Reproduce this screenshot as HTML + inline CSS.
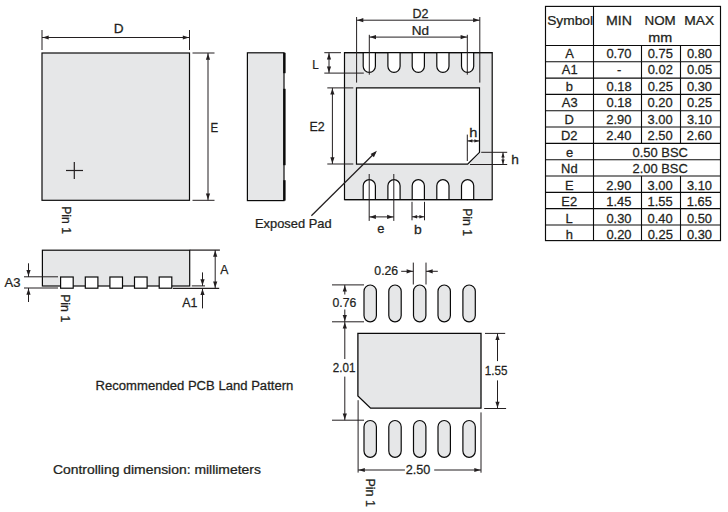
<!DOCTYPE html>
<html><head><meta charset="utf-8"><title>Package outline</title>
<style>
html,body{margin:0;padding:0;background:#fff;}
svg{display:block;}
text{font-family:"Liberation Sans",sans-serif;font-size:12.3px;fill:#231f20;stroke:#231f20;stroke-width:0.25px;}
</style></head><body>
<svg width="728" height="512" viewBox="0 0 728 512">
<rect x="0" y="0" width="728" height="512" fill="#ffffff"/>
<rect x="42" y="53" width="147.5" height="147.3" rx="0" fill="#e6e7e8" stroke="#0a0a0a" stroke-width="1.2"/>
<line x1="66" y1="170.5" x2="83" y2="170.5" stroke="#231f20" stroke-width="1.2"/>
<line x1="74.3" y1="162" x2="74.3" y2="179" stroke="#231f20" stroke-width="1.2"/>
<line x1="42" y1="30" x2="42" y2="50" stroke="#231f20" stroke-width="1.0"/>
<line x1="189.5" y1="30" x2="189.5" y2="50" stroke="#231f20" stroke-width="1.0"/>
<line x1="42" y1="37.5" x2="189.5" y2="37.5" stroke="#231f20" stroke-width="1.0"/>
<polygon points="42.50,37.50 48.70,35.40 48.70,39.60" fill="#231f20"/>
<polygon points="189.00,37.50 182.80,35.40 182.80,39.60" fill="#231f20"/>
<text transform="translate(113.64,32.70) scale(1.1074,1)">D</text>
<line x1="192.5" y1="53" x2="214.5" y2="53" stroke="#231f20" stroke-width="1.0"/>
<line x1="192.5" y1="200.3" x2="214.5" y2="200.3" stroke="#231f20" stroke-width="1.0"/>
<line x1="208" y1="53" x2="208" y2="200.3" stroke="#231f20" stroke-width="1.0"/>
<polygon points="208.00,53.50 205.90,59.70 210.10,59.70" fill="#231f20"/>
<polygon points="208.00,199.80 205.90,193.60 210.10,193.60" fill="#231f20"/>
<text transform="translate(210.40,132.00) scale(0.9366,1)">E</text>
<text transform="translate(61.60,206.25) rotate(90) scale(0.9896,1.080)">Pin 1</text>
<rect x="247.4" y="52.8" width="36.6" height="147.8" rx="0" fill="#e6e7e8" stroke="#0a0a0a" stroke-width="1.2"/>
<line x1="284.4" y1="52.8" x2="284.4" y2="73.2" stroke="#0a0a0a" stroke-width="2.4"/>
<line x1="284.4" y1="88.8" x2="284.4" y2="165.2" stroke="#0a0a0a" stroke-width="2.4"/>
<line x1="284.4" y1="180.2" x2="284.4" y2="200.6" stroke="#0a0a0a" stroke-width="2.4"/>
<rect x="344.5" y="52.6" width="147.7" height="147.0" rx="0" fill="#e6e7e8" stroke="#0a0a0a" stroke-width="1.2"/>
<polygon points="356.5,87.8 479.5,87.8 479.5,152.3 467.6,164.2 356.5,164.2" fill="#fff" stroke="#0a0a0a" stroke-width="1.2"/>
<path d="M363.2,52.6 V66.3 A6.1,6.1 0 0 0 375.4,66.3 V52.6" fill="#fff" stroke="#0a0a0a" stroke-width="1.2"/>
<path d="M387.9,52.6 V66.3 A6.1,6.1 0 0 0 400.1,66.3 V52.6" fill="#fff" stroke="#0a0a0a" stroke-width="1.2"/>
<path d="M412.2,52.6 V66.3 A6.1,6.1 0 0 0 424.4,66.3 V52.6" fill="#fff" stroke="#0a0a0a" stroke-width="1.2"/>
<path d="M436.8,52.6 V66.3 A6.1,6.1 0 0 0 449.0,66.3 V52.6" fill="#fff" stroke="#0a0a0a" stroke-width="1.2"/>
<path d="M461.5,52.6 V66.3 A6.1,6.1 0 0 0 473.7,66.3 V52.6" fill="#fff" stroke="#0a0a0a" stroke-width="1.2"/>
<path d="M363.2,199.6 V185.8 A6.1,6.1 0 0 1 375.4,185.8 V199.6" fill="#fff" stroke="#0a0a0a" stroke-width="1.2"/>
<path d="M387.9,199.6 V185.8 A6.1,6.1 0 0 1 400.1,185.8 V199.6" fill="#fff" stroke="#0a0a0a" stroke-width="1.2"/>
<path d="M412.2,199.6 V185.8 A6.1,6.1 0 0 1 424.4,185.8 V199.6" fill="#fff" stroke="#0a0a0a" stroke-width="1.2"/>
<path d="M436.8,199.6 V185.8 A6.1,6.1 0 0 1 449.0,185.8 V199.6" fill="#fff" stroke="#0a0a0a" stroke-width="1.2"/>
<path d="M461.5,199.6 V185.8 A6.1,6.1 0 0 1 473.7,185.8 V199.6" fill="#fff" stroke="#0a0a0a" stroke-width="1.2"/>
<line x1="344.5" y1="52.6" x2="492.2" y2="52.6" stroke="#0a0a0a" stroke-width="1.2"/>
<line x1="344.5" y1="199.6" x2="492.2" y2="199.6" stroke="#0a0a0a" stroke-width="1.2"/>
<line x1="356.6" y1="17" x2="356.6" y2="82.6" stroke="#231f20" stroke-width="1.0"/>
<line x1="479.8" y1="17" x2="479.8" y2="82.6" stroke="#231f20" stroke-width="1.0"/>
<line x1="356.6" y1="20.2" x2="479.8" y2="20.2" stroke="#231f20" stroke-width="1.0"/>
<polygon points="357.10,20.20 363.30,18.10 363.30,22.30" fill="#231f20"/>
<polygon points="479.30,20.20 473.10,18.10 473.10,22.30" fill="#231f20"/>
<text transform="translate(412.42,17.80) scale(1.0166,1)">D2</text>
<line x1="369.3" y1="34.8" x2="369.3" y2="74.7" stroke="#231f20" stroke-width="1.0"/>
<line x1="467.3" y1="34.8" x2="467.3" y2="74.7" stroke="#231f20" stroke-width="1.0"/>
<line x1="369.3" y1="37.1" x2="467.3" y2="37.1" stroke="#231f20" stroke-width="1.0"/>
<polygon points="369.80,37.10 376.00,35.00 376.00,39.20" fill="#231f20"/>
<polygon points="466.80,37.10 460.60,35.00 460.60,39.20" fill="#231f20"/>
<text transform="translate(411.84,34.80) scale(1.1015,1)">Nd</text>
<line x1="324.3" y1="52.7" x2="341" y2="52.7" stroke="#231f20" stroke-width="1.0"/>
<line x1="324.3" y1="73.1" x2="363.8" y2="73.1" stroke="#231f20" stroke-width="1.0"/>
<line x1="329" y1="52.7" x2="329" y2="73.1" stroke="#231f20" stroke-width="1.0"/>
<polygon points="329.00,53.20 326.90,59.40 331.10,59.40" fill="#231f20"/>
<polygon points="329.00,72.60 326.90,66.40 331.10,66.40" fill="#231f20"/>
<text transform="translate(312.19,68.90) scale(0.9509,1)">L</text>
<line x1="327.3" y1="87.9" x2="353.3" y2="87.9" stroke="#231f20" stroke-width="1.0"/>
<line x1="327.3" y1="164" x2="353.3" y2="164" stroke="#231f20" stroke-width="1.0"/>
<line x1="332.4" y1="87.9" x2="332.4" y2="164" stroke="#231f20" stroke-width="1.0"/>
<polygon points="332.40,88.40 330.30,94.60 334.50,94.60" fill="#231f20"/>
<polygon points="332.40,163.50 330.30,157.30 334.50,157.30" fill="#231f20"/>
<text transform="translate(309.43,131.00) scale(1.0084,1)">E2</text>
<line x1="467.3" y1="134.6" x2="467.3" y2="161" stroke="#231f20" stroke-width="1.0"/>
<line x1="467.3" y1="140.9" x2="479.4" y2="140.9" stroke="#231f20" stroke-width="1.0"/>
<polygon points="467.80,140.90 472.40,139.20 472.40,142.60" fill="#231f20"/>
<polygon points="479.00,140.90 474.40,139.20 474.40,142.60" fill="#231f20"/>
<text transform="translate(469.29,136.90) scale(1.1893,1)">h</text>
<line x1="481.2" y1="152.3" x2="507.2" y2="152.3" stroke="#231f20" stroke-width="1.0"/>
<line x1="470" y1="164.5" x2="507.2" y2="164.5" stroke="#231f20" stroke-width="1.0"/>
<line x1="503" y1="152.3" x2="503" y2="164.5" stroke="#231f20" stroke-width="1.0"/>
<polygon points="503.00,152.80 501.30,157.40 504.70,157.40" fill="#231f20"/>
<polygon points="503.00,164.00 501.30,159.40 504.70,159.40" fill="#231f20"/>
<text transform="translate(511.34,163.60) scale(1.1150,1)">h</text>
<line x1="311.4" y1="215.8" x2="375.5" y2="152.2" stroke="#231f20" stroke-width="1.25"/>
<polygon points="376.9,150.8 370.6,153.9 373.9,157.2" fill="#231f20"/>
<text transform="translate(254.99,227.90) scale(1.0487,1)">Exposed Pad</text>
<line x1="369.2" y1="174" x2="369.2" y2="220.9" stroke="#231f20" stroke-width="1.0"/>
<line x1="393.8" y1="174" x2="393.8" y2="220.9" stroke="#231f20" stroke-width="1.0"/>
<line x1="369.2" y1="216.9" x2="393.8" y2="216.9" stroke="#231f20" stroke-width="1.0"/>
<polygon points="369.70,216.90 375.90,214.80 375.90,219.00" fill="#231f20"/>
<polygon points="393.30,216.90 387.10,214.80 387.10,219.00" fill="#231f20"/>
<text transform="translate(377.17,232.70) scale(1.0500,1)">e</text>
<line x1="412" y1="201.8" x2="412" y2="220.3" stroke="#231f20" stroke-width="1.0"/>
<line x1="424.5" y1="201.8" x2="424.5" y2="220.3" stroke="#231f20" stroke-width="1.0"/>
<line x1="412" y1="216.8" x2="424.5" y2="216.8" stroke="#231f20" stroke-width="1.0"/>
<polygon points="412.50,216.80 417.10,215.10 417.10,218.50" fill="#231f20"/>
<polygon points="424.00,216.80 419.40,215.10 419.40,218.50" fill="#231f20"/>
<text transform="translate(413.93,233.50) scale(1.1304,1)">b</text>
<text transform="translate(463.30,208.14) rotate(90) scale(1.0009,1.080)">Pin 1</text>
<rect x="42.4" y="250.2" width="147.3" height="35.8" rx="0" fill="#e6e7e8" stroke="#0a0a0a" stroke-width="1.2"/>
<rect x="60.599999999999994" y="277" width="12.6" height="11.2" rx="0" fill="#fff" stroke="#0a0a0a" stroke-width="1.2"/>
<rect x="85.3" y="277" width="12.6" height="11.2" rx="0" fill="#fff" stroke="#0a0a0a" stroke-width="1.2"/>
<rect x="109.89999999999999" y="277" width="12.6" height="11.2" rx="0" fill="#fff" stroke="#0a0a0a" stroke-width="1.2"/>
<rect x="134.5" y="277" width="12.6" height="11.2" rx="0" fill="#fff" stroke="#0a0a0a" stroke-width="1.2"/>
<rect x="159.20000000000002" y="277" width="12.6" height="11.2" rx="0" fill="#fff" stroke="#0a0a0a" stroke-width="1.2"/>
<line x1="24" y1="276.8" x2="58" y2="276.8" stroke="#231f20" stroke-width="1.0"/>
<line x1="24" y1="288" x2="58" y2="288" stroke="#231f20" stroke-width="1.0"/>
<line x1="28.5" y1="263.3" x2="28.5" y2="276.8" stroke="#231f20" stroke-width="1.0"/>
<polygon points="28.50,276.30 26.40,270.10 30.60,270.10" fill="#231f20"/>
<line x1="28.5" y1="288" x2="28.5" y2="302" stroke="#231f20" stroke-width="1.0"/>
<polygon points="28.50,288.50 26.40,294.70 30.60,294.70" fill="#231f20"/>
<text transform="translate(4.60,287.00) scale(1.0587,1)">A3</text>
<line x1="189.7" y1="250.1" x2="219.9" y2="250.1" stroke="#231f20" stroke-width="1.25"/>
<line x1="173" y1="288.4" x2="219.2" y2="288.4" stroke="#231f20" stroke-width="1.1"/>
<line x1="215.2" y1="250" x2="215.2" y2="288.2" stroke="#231f20" stroke-width="1.0"/>
<polygon points="215.20,250.50 213.10,256.70 217.30,256.70" fill="#231f20"/>
<polygon points="215.20,287.70 213.10,281.50 217.30,281.50" fill="#231f20"/>
<text transform="translate(220.30,273.80) scale(0.9922,1)">A</text>
<line x1="191.8" y1="285.9" x2="205" y2="285.9" stroke="#231f20" stroke-width="1.0"/>
<line x1="202.5" y1="272.4" x2="202.5" y2="285.9" stroke="#231f20" stroke-width="1.0"/>
<polygon points="202.50,285.40 200.40,279.20 204.60,279.20" fill="#231f20"/>
<line x1="202.5" y1="288.2" x2="202.5" y2="308.4" stroke="#231f20" stroke-width="1.0"/>
<polygon points="202.50,288.70 200.40,294.90 204.60,294.90" fill="#231f20"/>
<text transform="translate(182.30,306.80) scale(1.0106,1)">A1</text>
<text transform="translate(61.00,294.13) rotate(90) scale(1.0047,1.080)">Pin 1</text>
<rect x="364.0" y="285" width="12.4" height="36.8" rx="6.2" fill="#e6e7e8" stroke="#0a0a0a" stroke-width="1.2"/>
<rect x="364.0" y="420.5" width="12.4" height="36.8" rx="6.2" fill="#e6e7e8" stroke="#0a0a0a" stroke-width="1.2"/>
<rect x="388.8" y="285" width="12.4" height="36.8" rx="6.2" fill="#e6e7e8" stroke="#0a0a0a" stroke-width="1.2"/>
<rect x="388.8" y="420.5" width="12.4" height="36.8" rx="6.2" fill="#e6e7e8" stroke="#0a0a0a" stroke-width="1.2"/>
<rect x="413.5" y="285" width="12.4" height="36.8" rx="6.2" fill="#e6e7e8" stroke="#0a0a0a" stroke-width="1.2"/>
<rect x="413.5" y="420.5" width="12.4" height="36.8" rx="6.2" fill="#e6e7e8" stroke="#0a0a0a" stroke-width="1.2"/>
<rect x="438.0" y="285" width="12.4" height="36.8" rx="6.2" fill="#e6e7e8" stroke="#0a0a0a" stroke-width="1.2"/>
<rect x="438.0" y="420.5" width="12.4" height="36.8" rx="6.2" fill="#e6e7e8" stroke="#0a0a0a" stroke-width="1.2"/>
<rect x="462.90000000000003" y="285" width="12.4" height="36.8" rx="6.2" fill="#e6e7e8" stroke="#0a0a0a" stroke-width="1.2"/>
<rect x="462.90000000000003" y="420.5" width="12.4" height="36.8" rx="6.2" fill="#e6e7e8" stroke="#0a0a0a" stroke-width="1.2"/>
<polygon points="357.9,333.4 481,333.4 481,408.2 370.6,408.2 357.9,396" fill="#e6e7e8" stroke="#0a0a0a" stroke-width="1.3"/>
<line x1="332" y1="284.9" x2="364" y2="284.9" stroke="#231f20" stroke-width="1.0"/>
<line x1="332" y1="321.8" x2="364" y2="321.8" stroke="#231f20" stroke-width="1.0"/>
<line x1="344.8" y1="284.9" x2="344.8" y2="294.5" stroke="#231f20" stroke-width="1.0"/>
<polygon points="344.80,285.40 342.70,291.60 346.90,291.60" fill="#231f20"/>
<line x1="344.8" y1="309.5" x2="344.8" y2="321.8" stroke="#231f20" stroke-width="1.0"/>
<polygon points="344.80,321.30 342.70,315.10 346.90,315.10" fill="#231f20"/>
<text transform="translate(332.52,306.80) scale(0.9932,1)">0.76</text>
<line x1="344.8" y1="321.8" x2="344.8" y2="359" stroke="#231f20" stroke-width="1.0"/>
<polygon points="344.80,322.30 342.70,328.50 346.90,328.50" fill="#231f20"/>
<line x1="344.8" y1="376.6" x2="344.8" y2="420.2" stroke="#231f20" stroke-width="1.0"/>
<polygon points="344.80,419.70 342.70,413.50 346.90,413.50" fill="#231f20"/>
<line x1="332" y1="420.2" x2="364" y2="420.2" stroke="#231f20" stroke-width="1.0"/>
<text transform="translate(332.86,371.90) scale(0.9447,1)">2.01</text>
<line x1="413.3" y1="262.6" x2="413.3" y2="284.5" stroke="#231f20" stroke-width="1.0"/>
<line x1="426" y1="262.6" x2="426" y2="284.5" stroke="#231f20" stroke-width="1.0"/>
<line x1="401.2" y1="271.3" x2="413.3" y2="271.3" stroke="#231f20" stroke-width="1.0"/>
<polygon points="412.80,271.30 406.60,269.20 406.60,273.40" fill="#231f20"/>
<line x1="426" y1="271.3" x2="437.8" y2="271.3" stroke="#231f20" stroke-width="1.0"/>
<polygon points="426.50,271.30 432.70,269.20 432.70,273.40" fill="#231f20"/>
<text transform="translate(374.32,274.90) scale(0.9975,1)">0.26</text>
<line x1="485" y1="333.4" x2="505.2" y2="333.4" stroke="#231f20" stroke-width="1.0"/>
<line x1="484.2" y1="408.5" x2="506.1" y2="408.5" stroke="#231f20" stroke-width="1.0"/>
<line x1="497.5" y1="333.4" x2="497.5" y2="361.1" stroke="#231f20" stroke-width="1.0"/>
<polygon points="497.50,333.90 495.40,340.10 499.60,340.10" fill="#231f20"/>
<line x1="497.5" y1="380.4" x2="497.5" y2="408.5" stroke="#231f20" stroke-width="1.0"/>
<polygon points="497.50,408.00 495.40,401.80 499.60,401.80" fill="#231f20"/>
<text transform="translate(484.87,374.80) scale(0.9483,1)">1.55</text>
<line x1="358.1" y1="400.2" x2="358.1" y2="472.6" stroke="#231f20" stroke-width="1.0"/>
<line x1="481" y1="412.4" x2="481" y2="472.7" stroke="#231f20" stroke-width="1.0"/>
<line x1="358.1" y1="470" x2="404.9" y2="470" stroke="#231f20" stroke-width="1.0"/>
<polygon points="358.60,470.00 364.80,467.90 364.80,472.10" fill="#231f20"/>
<line x1="434.2" y1="470" x2="481" y2="470" stroke="#231f20" stroke-width="1.0"/>
<polygon points="480.50,470.00 474.30,467.90 474.30,472.10" fill="#231f20"/>
<text transform="translate(405.71,473.80) scale(1.0279,1)">2.50</text>
<text transform="translate(366.20,478.52) rotate(90) scale(1.0160,1.080)">Pin 1</text>
<text transform="translate(95.58,390.00) scale(1.0645,1)">Recommended PCB Land Pattern</text>
<text transform="translate(52.95,473.90) scale(1.1311,1)">Controlling dimension: millimeters</text>
<rect x="545.5" y="6.4" width="175.0" height="234.2" fill="none" stroke="#0a0a0a" stroke-width="1.15"/>
<line x1="593.5" y1="6.4" x2="593.5" y2="240.6" stroke="#0a0a0a" stroke-width="1.1"/>
<line x1="545.5" y1="45.45" x2="720.5" y2="45.45" stroke="#0a0a0a" stroke-width="1.1"/>
<line x1="545.5" y1="61.77" x2="720.5" y2="61.77" stroke="#0a0a0a" stroke-width="1.1"/>
<line x1="545.5" y1="78.09" x2="720.5" y2="78.09" stroke="#0a0a0a" stroke-width="1.1"/>
<line x1="545.5" y1="94.41" x2="720.5" y2="94.41" stroke="#0a0a0a" stroke-width="1.1"/>
<line x1="545.5" y1="110.73" x2="720.5" y2="110.73" stroke="#0a0a0a" stroke-width="1.1"/>
<line x1="545.5" y1="127.05" x2="720.5" y2="127.05" stroke="#0a0a0a" stroke-width="1.1"/>
<line x1="545.5" y1="143.37" x2="720.5" y2="143.37" stroke="#0a0a0a" stroke-width="1.1"/>
<line x1="545.5" y1="159.69" x2="720.5" y2="159.69" stroke="#0a0a0a" stroke-width="1.1"/>
<line x1="545.5" y1="176.01" x2="720.5" y2="176.01" stroke="#0a0a0a" stroke-width="1.1"/>
<line x1="545.5" y1="192.32999999999998" x2="720.5" y2="192.32999999999998" stroke="#0a0a0a" stroke-width="1.1"/>
<line x1="545.5" y1="208.64999999999998" x2="720.5" y2="208.64999999999998" stroke="#0a0a0a" stroke-width="1.1"/>
<line x1="545.5" y1="224.97000000000003" x2="720.5" y2="224.97000000000003" stroke="#0a0a0a" stroke-width="1.1"/>
<text transform="translate(565.16,57.90) scale(1.0500,1)">A</text>
<line x1="641.5" y1="45.45" x2="641.5" y2="61.77" stroke="#0a0a0a" stroke-width="1.1"/>
<line x1="680.5" y1="45.45" x2="680.5" y2="61.77" stroke="#0a0a0a" stroke-width="1.1"/>
<text transform="translate(606.39,57.90) scale(1.0500,1)">0.70</text>
<text transform="translate(647.69,57.90) scale(1.0500,1)">0.75</text>
<text transform="translate(686.89,57.90) scale(1.0500,1)">0.80</text>
<text transform="translate(561.86,74.40) scale(1.0500,1)">A1</text>
<line x1="641.5" y1="61.77" x2="641.5" y2="78.09" stroke="#0a0a0a" stroke-width="1.1"/>
<line x1="680.5" y1="61.77" x2="680.5" y2="78.09" stroke="#0a0a0a" stroke-width="1.1"/>
<text transform="translate(616.88,74.40) scale(1.0500,1)">-</text>
<text transform="translate(647.69,74.40) scale(1.0500,1)">0.02</text>
<text transform="translate(686.99,74.40) scale(1.0500,1)">0.05</text>
<text transform="translate(565.77,90.80) scale(1.0500,1)">b</text>
<line x1="641.5" y1="78.09" x2="641.5" y2="94.41" stroke="#0a0a0a" stroke-width="1.1"/>
<line x1="680.5" y1="78.09" x2="680.5" y2="94.41" stroke="#0a0a0a" stroke-width="1.1"/>
<text transform="translate(606.49,90.80) scale(1.0500,1)">0.18</text>
<text transform="translate(647.69,90.80) scale(1.0500,1)">0.25</text>
<text transform="translate(686.89,90.80) scale(1.0500,1)">0.30</text>
<text transform="translate(561.86,107.30) scale(1.0500,1)">A3</text>
<line x1="641.5" y1="94.41" x2="641.5" y2="110.73" stroke="#0a0a0a" stroke-width="1.1"/>
<line x1="680.5" y1="94.41" x2="680.5" y2="110.73" stroke="#0a0a0a" stroke-width="1.1"/>
<text transform="translate(606.49,107.30) scale(1.0500,1)">0.18</text>
<text transform="translate(647.59,107.30) scale(1.0500,1)">0.20</text>
<text transform="translate(686.99,107.30) scale(1.0500,1)">0.25</text>
<text transform="translate(564.56,123.80) scale(1.0500,1)">D</text>
<line x1="641.5" y1="110.73" x2="641.5" y2="127.05" stroke="#0a0a0a" stroke-width="1.1"/>
<line x1="680.5" y1="110.73" x2="680.5" y2="127.05" stroke="#0a0a0a" stroke-width="1.1"/>
<text transform="translate(606.29,123.80) scale(1.0500,1)">2.90</text>
<text transform="translate(647.59,123.80) scale(1.0500,1)">3.00</text>
<text transform="translate(686.89,123.80) scale(1.0500,1)">3.10</text>
<text transform="translate(561.00,140.20) scale(1.0500,1)">D2</text>
<line x1="641.5" y1="127.05" x2="641.5" y2="143.37" stroke="#0a0a0a" stroke-width="1.1"/>
<line x1="680.5" y1="127.05" x2="680.5" y2="143.37" stroke="#0a0a0a" stroke-width="1.1"/>
<text transform="translate(606.29,140.20) scale(1.0500,1)">2.40</text>
<text transform="translate(647.49,140.20) scale(1.0500,1)">2.50</text>
<text transform="translate(686.79,140.20) scale(1.0500,1)">2.60</text>
<text transform="translate(565.97,156.70) scale(1.0500,1)">e</text>
<text transform="translate(632.58,156.70) scale(1.0500,1)">0.50 BSC</text>
<text transform="translate(561.10,173.20) scale(1.0500,1)">Nd</text>
<text transform="translate(632.48,173.20) scale(1.0500,1)">2.00 BSC</text>
<text transform="translate(564.96,189.70) scale(1.0500,1)">E</text>
<line x1="641.5" y1="176.01" x2="641.5" y2="192.32999999999998" stroke="#0a0a0a" stroke-width="1.1"/>
<line x1="680.5" y1="176.01" x2="680.5" y2="192.32999999999998" stroke="#0a0a0a" stroke-width="1.1"/>
<text transform="translate(606.29,189.70) scale(1.0500,1)">2.90</text>
<text transform="translate(647.59,189.70) scale(1.0500,1)">3.00</text>
<text transform="translate(686.89,189.70) scale(1.0500,1)">3.10</text>
<text transform="translate(561.36,206.10) scale(1.0500,1)">E2</text>
<line x1="641.5" y1="192.32999999999998" x2="641.5" y2="208.64999999999998" stroke="#0a0a0a" stroke-width="1.1"/>
<line x1="680.5" y1="192.32999999999998" x2="680.5" y2="208.64999999999998" stroke="#0a0a0a" stroke-width="1.1"/>
<text transform="translate(606.29,206.10) scale(1.0500,1)">1.45</text>
<text transform="translate(647.49,206.10) scale(1.0500,1)">1.55</text>
<text transform="translate(686.79,206.10) scale(1.0500,1)">1.65</text>
<text transform="translate(565.56,222.60) scale(1.0500,1)">L</text>
<line x1="641.5" y1="208.64999999999998" x2="641.5" y2="224.97000000000003" stroke="#0a0a0a" stroke-width="1.1"/>
<line x1="680.5" y1="208.64999999999998" x2="680.5" y2="224.97000000000003" stroke="#0a0a0a" stroke-width="1.1"/>
<text transform="translate(606.39,222.60) scale(1.0500,1)">0.30</text>
<text transform="translate(647.59,222.60) scale(1.0500,1)">0.40</text>
<text transform="translate(686.89,222.60) scale(1.0500,1)">0.50</text>
<text transform="translate(565.87,239.10) scale(1.0500,1)">h</text>
<line x1="641.5" y1="224.97000000000003" x2="641.5" y2="240.6" stroke="#0a0a0a" stroke-width="1.1"/>
<line x1="680.5" y1="224.97000000000003" x2="680.5" y2="240.6" stroke="#0a0a0a" stroke-width="1.1"/>
<text transform="translate(606.39,239.10) scale(1.0500,1)">0.20</text>
<text transform="translate(647.69,239.10) scale(1.0500,1)">0.25</text>
<text transform="translate(686.89,239.10) scale(1.0500,1)">0.30</text>
<text transform="translate(547.17,25.00) scale(1.1201,1)">Symbol</text>
<text transform="translate(605.99,25.00) scale(1.1515,1)">MIN</text>
<text transform="translate(644.55,25.00) scale(1.0890,1)">NOM</text>
<text transform="translate(684.22,25.00) scale(1.1267,1)">MAX</text>
<text transform="translate(648.30,42.10) scale(1.1684,1)">mm</text>
</svg>
</body></html>
